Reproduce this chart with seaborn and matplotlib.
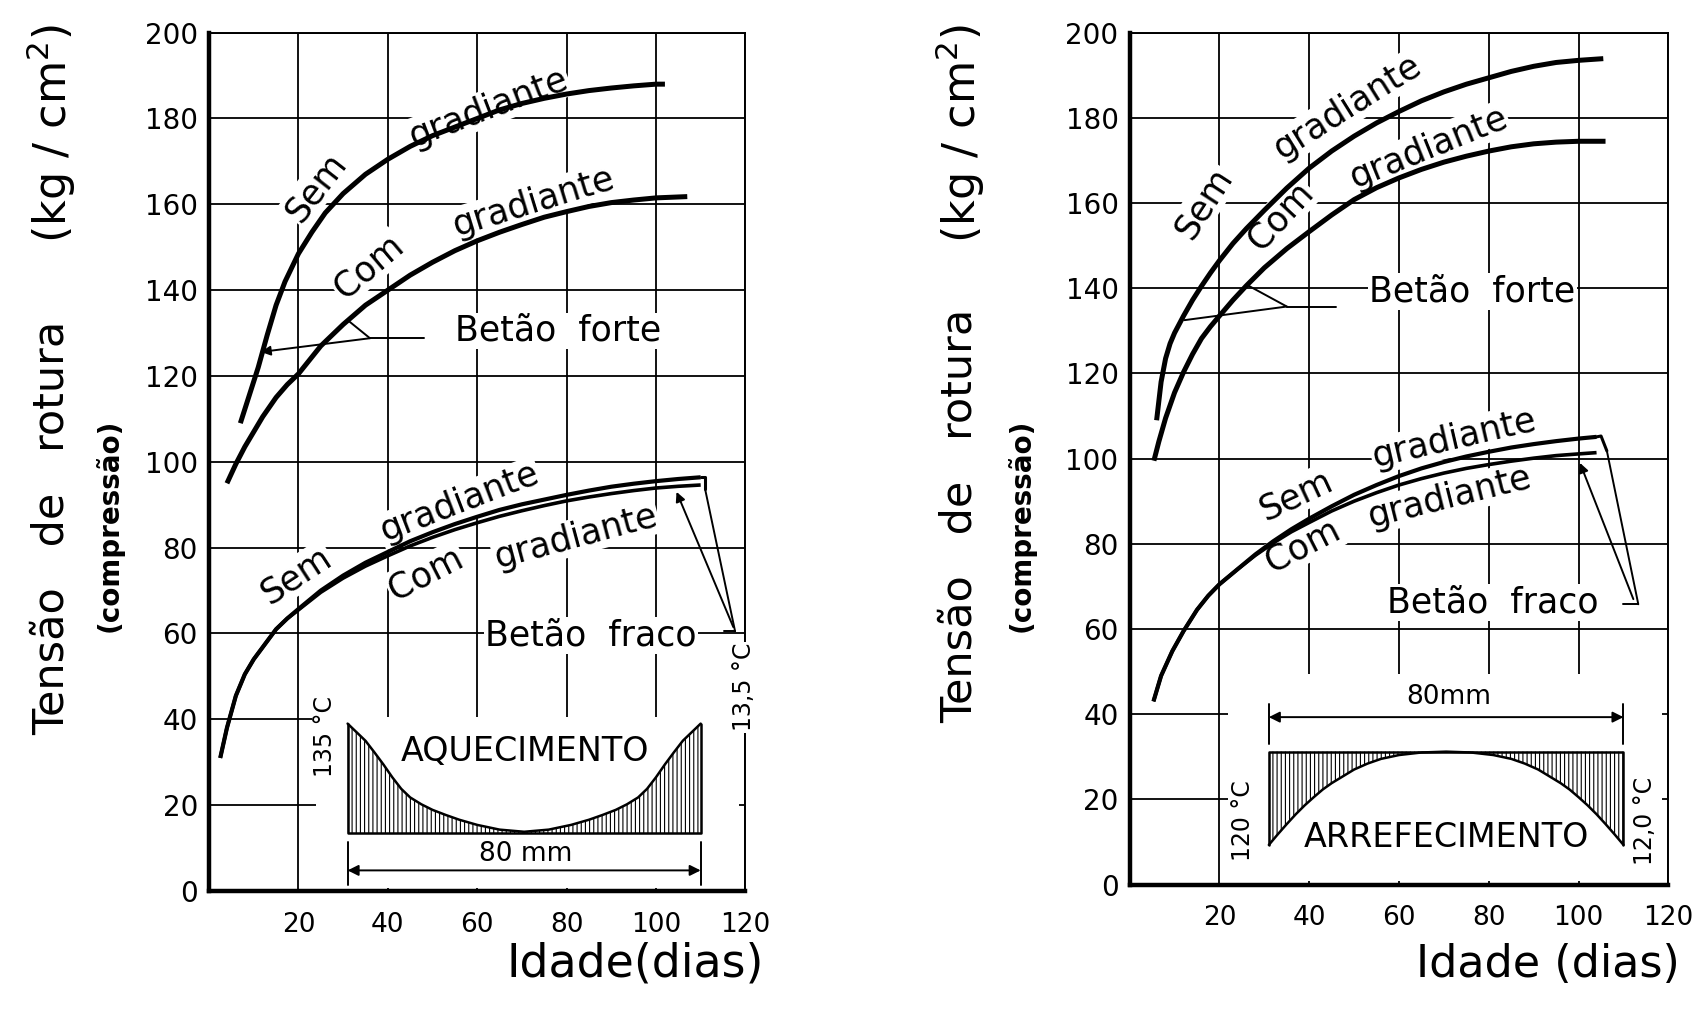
import matplotlib
matplotlib.use("Agg")
import matplotlib.pyplot as plt
import seaborn as sns
import pandas as pd
from matplotlib.patches import Rectangle

# ---------------- data ----------------
x_ticks = [20, 40, 60, 80, 100, 120]
y_ticks = [0, 20, 40, 60, 80, 100, 120, 140, 160, 180, 200]

# Left panel (AQUECIMENTO)
LF_sem_x = [7, 9, 11, 13, 15, 17, 20, 23, 26, 30, 35, 40, 45, 50, 55, 60, 65, 70, 75, 80, 85, 90, 95, 100, 102]
LF_sem_y = [109, 115.5, 122, 129.5, 136.5, 142, 148.5, 153.5, 158, 162.5, 167, 170.5, 173.5, 176, 178, 180, 182,
            183.5, 184.7, 185.7, 186.5, 187.1, 187.6, 188, 188]
LF_com_x = [4, 6, 8, 10, 12, 15, 17.5, 20, 25, 30, 35, 40, 45, 50, 55, 60, 65, 70, 75, 80, 85, 90, 95, 100, 107]
LF_com_y = [95, 99.5, 103.5, 107, 110.5, 115, 118, 120.5, 127, 132, 136.5, 140, 143.5, 146.5, 149.2, 151.5, 153.5,
            155.3, 157, 158.3, 159.5, 160.4, 161, 161.5, 161.8]
LW_x = [2.5, 4, 6, 8, 10, 12.5, 15, 17.5, 20, 25, 30, 35, 40, 45, 50, 55, 60, 65, 70, 75, 80, 85, 90, 95, 100, 105, 110]
LW_sem_y = [31, 38, 45.5, 50.5, 54, 57.5, 61, 63.5, 65.7, 70, 73.5, 76.5, 79, 81.5, 83.6, 85.5, 87.2, 88.8, 90.1,
            91.2, 92.3, 93.3, 94.2, 94.9, 95.5, 96, 96.4]
LW_com_y = [31, 38, 45.5, 50.5, 54, 57.5, 61, 63.5, 65.5, 69.6, 72.9, 75.7, 78.1, 80.4, 82.4, 84.2, 85.8, 87.3, 88.6,
            89.8, 90.9, 91.8, 92.6, 93.3, 93.9, 94.3, 94.6]

# Right panel (ARREFECIMENTO)
RF_sem_x = [6, 7, 8, 9, 10, 12, 14, 16, 18, 20, 23, 26, 30, 35, 40, 45, 50, 55, 60, 65, 70, 75, 80, 85, 90, 95, 100, 105.5]
RF_sem_y = [109, 118, 123.5, 127, 129.5, 133.5, 137.2, 140.5, 143.6, 146.5, 150.5, 154, 158.3, 163.5, 168.2, 172.2,
            175.7, 178.8, 181.5, 184, 186.1, 187.9, 189.4, 190.9, 192.1, 193, 193.5, 193.9]
RF_com_x = [5.4, 6.5, 8, 10, 12, 14, 16, 18, 20, 23, 26, 30, 35, 40, 45, 50, 55, 60, 65, 70, 75, 80, 85, 90, 95, 100, 106]
RF_com_y = [99.5, 104, 109.5, 115.5, 120.3, 124.5, 128.2, 131, 133.5, 137.2, 140.6, 144.8, 149.3, 153.3, 157.2, 160.8,
            163.6, 165.9, 167.9, 169.6, 171, 172.2, 173.2, 173.9, 174.3, 174.5, 174.5]
RW_x = [5.3, 7, 9.5, 12, 15, 17.5, 20, 24, 28, 32, 36, 40, 45, 50, 55, 60, 65, 70, 75, 80, 85, 90, 95, 100, 104]
RW_com_y = [43, 49, 54.8, 59.5, 64.5, 67.8, 70.5, 74, 77.3, 80.2, 82.8, 85, 87.7, 90, 92, 93.8, 95.3, 96.6, 97.7,
            98.6, 99.4, 100.1, 100.7, 101.1, 101.4]
RW_sem_y = [43, 49, 54.8, 59.5, 64.5, 67.8, 70.5, 74, 77.5, 80.6, 83.4, 85.9, 88.8, 91.5, 93.8, 95.9, 97.7, 99.2,
            100.5, 101.6, 102.6, 103.4, 104.1, 104.7, 105.1]

# Temperature profiles across the 80 mm section (insets)
INS_x = [31, 33, 35, 37, 39, 41, 43, 45, 47.5, 50, 53, 56, 60, 65, 70.5, 76, 81, 85, 88, 91, 93.5, 96, 98, 100,
         102, 104, 106, 108, 110]
INS_heat_y = [39, 37, 35, 32.3, 29.5, 26.5, 23.8, 21.8, 20.2, 18.9, 17.7, 16.6, 15.4, 14.3, 13.8, 14.3, 15.4, 16.6,
              17.7, 18.9, 20.2, 21.8, 23.8, 26.5, 29.5, 32.3, 35, 37, 39]
INS_cool_y = [9.3, 11.8, 14.2, 16.5, 18.6, 20.5, 22.3, 23.8, 25.4, 27, 28.4, 29.5, 30.4, 31, 31.2, 31, 30.4, 29.5,
              28.4, 27, 25.4, 23.8, 22.3, 20.5, 18.6, 16.5, 14.2, 11.8, 9.3]

# ---------------- style ----------------
sns.set_theme(style="white")
plt.rcParams["font.family"] = ["DejaVu Sans"]
plt.rcParams["text.color"] = "black"
plt.rcParams["axes.labelcolor"] = "black"
plt.rcParams["xtick.color"] = "black"
plt.rcParams["ytick.color"] = "black"
plt.rcParams["hatch.linewidth"] = 0.8
plt.rcParams["hatch.color"] = "black"

fig = plt.figure(figsize=(17.08, 10.11), dpi=100)
axL = fig.add_axes([0.1224, 0.1187, 0.3140, 0.849])
axR = fig.add_axes([0.6614, 0.1251, 0.3154, 0.8426])

CURVE_LW = 3.6
THIN = 1.4
LBL = 25
BOX = dict(facecolor="white", edgecolor="none", pad=1.0)


def base_axes(ax):
    ax.set_xlim(0, 120)
    ax.set_ylim(0, 200)
    ax.set_xticks(x_ticks)
    ax.set_yticks(y_ticks)
    ax.set_xticklabels([str(v) for v in x_ticks], fontsize=19)
    ax.set_yticklabels([str(v) for v in y_ticks], fontsize=20)
    ax.tick_params(axis="both", length=0, colors="black")
    ax.tick_params(axis="x", pad=15)
    ax.tick_params(axis="y", pad=8)
    ax.set_axisbelow(True)
    ax.grid(True, color="black", lw=1.3)
    for s in ["left", "bottom"]:
        ax.spines[s].set_linewidth(3.2)
        ax.spines[s].set_color("black")
    for s in ["top", "right"]:
        ax.spines[s].set_linewidth(1.4)
        ax.spines[s].set_color("black")


def curve(ax, x, y, lw=CURVE_LW):
    df = pd.DataFrame({"x": x, "y": y})
    sns.lineplot(data=df, x="x", y="y", ax=ax, color="black", lw=lw, estimator=None,
                 sort=False, zorder=4, solid_capstyle="butt")
    ax.set_xlabel("")
    ax.set_ylabel("")


def label(ax, x, y, s, rot=0, size=LBL):
    ax.text(x, y, s, rotation=rot, fontsize=size, ha="center", va="center",
            rotation_mode="anchor", bbox=BOX, zorder=3)


def seg(ax, xs, ys, lw=THIN):
    ax.plot(xs, ys, color="black", lw=lw, zorder=4)


def arrow_to(ax, tip, tail):
    ax.annotate("", xy=tip, xytext=tail,
                arrowprops=dict(arrowstyle="-|>", color="black", lw=THIN,
                                mutation_scale=14, shrinkA=0, shrinkB=0), zorder=4)


# ================= LEFT PANEL =================
ax = axL
base_axes(ax)
ax.add_patch(Rectangle((24, 0.8), 94.5, 39.7, facecolor="white", edgecolor="none", zorder=1))
curve(ax, LF_sem_x, LF_sem_y)
curve(ax, LF_com_x, LF_com_y)
curve(ax, LW_x, LW_sem_y, lw=3.0)
curve(ax, LW_x, LW_com_y, lw=2.6)
seg(ax, [110, 111, 111], [96.4, 96.4, 93.6], lw=2.2)

label(ax, 23.9, 164, "Sem", 52)
label(ax, 62.5, 182.5, "gradiante", 21)
label(ax, 35.6, 145.5, "Com", 40)
label(ax, 72.5, 160.5, "gradiante", 17)
label(ax, 78, 130.5, "Betão  forte", 0)
label(ax, 19.5, 73.5, "Sem", 33)
label(ax, 56, 90.5, "gradiante", 21)
label(ax, 48.5, 74.0, "Com", 27)
label(ax, 82, 82.5, "gradiante", 15)
label(ax, 85.5, 59.5, "Betão  fraco", 0)

# leader for "Betão forte"
seg(ax, [48, 36], [128.8, 128.8])
seg(ax, [36, 31.5], [128.8, 132.6])
arrow_to(ax, (11.6, 125.6), (36, 128.8))
# leader for "Betão fraco"
arrow_to(ax, (104.6, 93.0), (117.3, 61.5))
seg(ax, [111, 117.7], [93.6, 60.5])
seg(ax, [117.7, 115.2], [60.5, 60.5])

# inset: AQUECIMENTO
ins_base = 13.4
ax.fill_between(INS_x, INS_heat_y, ins_base, facecolor="none", edgecolor="black",
                hatch="||||", linewidth=0, zorder=2)
seg(ax, INS_x, INS_heat_y, lw=1.8)
seg(ax, [31, 31, 110, 110], [INS_heat_y[0], ins_base, ins_base, INS_heat_y[-1]], lw=1.8)
label(ax, 70.8, 32.5, "AQUECIMENTO", 0, size=24)
label(ax, 70.8, 8.6, "80 mm", 0, size=19)
seg(ax, [31, 31], [1.5, 11.5])
seg(ax, [110, 110], [1.5, 11.5])
ax.annotate("", xy=(31, 4.8), xytext=(110, 4.8),
            arrowprops=dict(arrowstyle="<|-|>", color="black", lw=THIN, mutation_scale=16,
                            shrinkA=0, shrinkB=0), zorder=4)
ax.text(26, 36, "135 °C", rotation=90, fontsize=17, ha="center", va="center", bbox=BOX, zorder=5)
ax.text(119.6, 47.5, "13,5 °C", rotation=90, fontsize=17, ha="center", va="center", bbox=BOX, zorder=5)

# ================= RIGHT PANEL =================
ax = axR
base_axes(ax)
ax.add_patch(Rectangle((22, 0.8), 96.5, 48.7, facecolor="white", edgecolor="none", zorder=1))
curve(ax, RF_sem_x, RF_sem_y)
curve(ax, RF_com_x, RF_com_y)
curve(ax, RW_x, RW_sem_y, lw=3.0)
curve(ax, RW_x, RW_com_y, lw=2.6)
seg(ax, [104, 105, 106.3], [105.1, 105.3, 101.8], lw=2.2)

label(ax, 16.5, 160, "Sem", 57)
label(ax, 48.5, 182.5, "gradiante", 32)
label(ax, 33.5, 157, "Com", 47)
label(ax, 66.5, 173, "gradiante", 22)
label(ax, 76.3, 139.3, "Betão  forte", 0)
label(ax, 37, 91.5, "Sem", 25)
label(ax, 72.3, 104.8, "gradiante", 13)
label(ax, 38.5, 79.5, "Com", 27)
label(ax, 71.3, 91.0, "gradiante", 14)
label(ax, 81, 66.3, "Betão  fraco", 0)

# leader for "Betão forte"
seg(ax, [46, 35], [135.7, 135.7])
seg(ax, [35, 26.1], [135.7, 140.8])
seg(ax, [35, 12.2], [135.7, 132.5])
# leader for "Betão fraco"
arrow_to(ax, (100.3, 99.0), (112.2, 67.0))
seg(ax, [106.3, 113.3], [101.8, 65.8])
seg(ax, [113.3, 109.8], [65.8, 65.8])

# inset: ARREFECIMENTO
ins_top = 31.2
ax.fill_between(INS_x, INS_cool_y, ins_top, facecolor="none", edgecolor="black",
                hatch="||||", linewidth=0, zorder=2)
seg(ax, INS_x, INS_cool_y, lw=1.8)
seg(ax, [31, 31, 110, 110], [INS_cool_y[0], ins_top, ins_top, INS_cool_y[-1]], lw=1.8)
label(ax, 70.5, 11, "ARREFECIMENTO", 0, size=24)
label(ax, 71, 44, "80mm", 0, size=19)
seg(ax, [31, 31], [33, 42.5])
seg(ax, [110, 110], [33, 42.5])
ax.annotate("", xy=(31, 39.3), xytext=(110, 39.3),
            arrowprops=dict(arrowstyle="<|-|>", color="black", lw=THIN, mutation_scale=16,
                            shrinkA=0, shrinkB=0), zorder=4)
ax.text(25.3, 15, "120 °C", rotation=90, fontsize=17, ha="center", va="center", bbox=BOX, zorder=5)
ax.text(114.8, 15, "12,0 °C", rotation=90, fontsize=17, ha="center", va="center", bbox=BOX, zorder=5)

# ================= axis titles =================
for xm, xc, yy in [(0.030, 0.064, 0.478), (0.562, 0.598, 0.490)]:
    fig.text(xm, yy, "Tensão   de   rotura", rotation=90, fontsize=31, ha="center", va="center")
    fig.text(xm, 0.868, "(kg / cm$^2$)", rotation=90, fontsize=32, ha="center", va="center")
    fig.text(xc, 0.48, "(compressão)", rotation=90, fontsize=20, ha="center", va="center",
             fontweight="bold")
fig.text(0.372, 0.034, "Idade(dias)", fontsize=33, ha="center", va="baseline")
fig.text(0.906, 0.034, "Idade (dias)", fontsize=32, ha="center", va="baseline")

fig.savefig("out.png", dpi=100, facecolor="white")
